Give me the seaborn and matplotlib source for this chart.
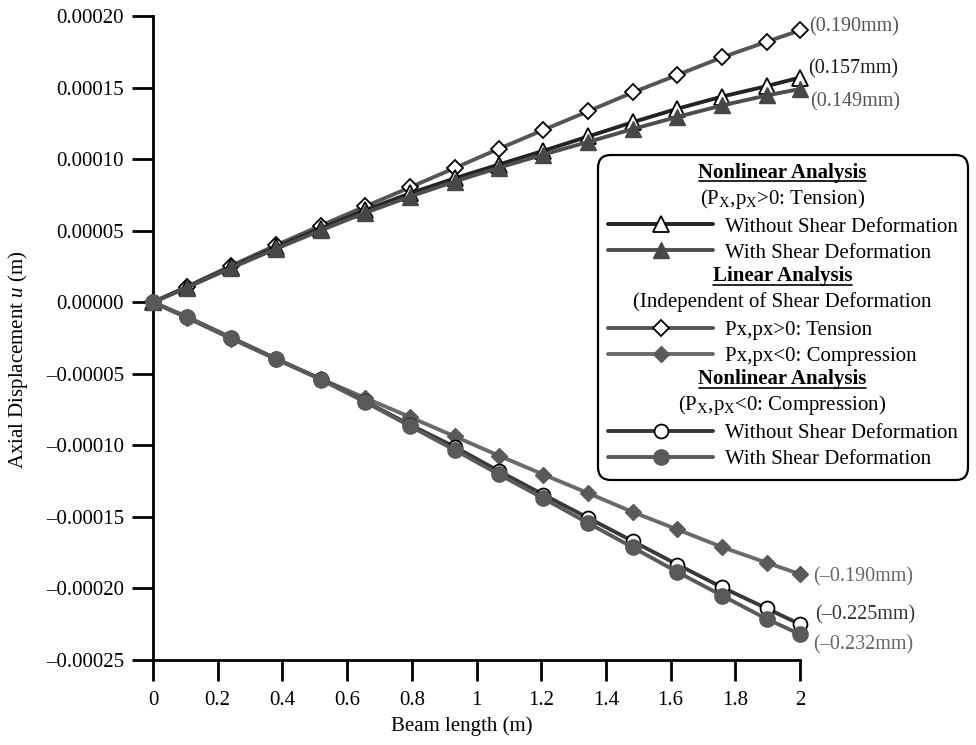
import numpy as np
import matplotlib
matplotlib.use("Agg")
import matplotlib.pyplot as plt
import seaborn as sns
from matplotlib.legend_handler import HandlerBase
from matplotlib.text import Text
from matplotlib.lines import Line2D
from matplotlib.textpath import TextPath
from matplotlib.font_manager import FontProperties

# ---------------- data (displacements in mm, beam length in m) ----------------
beam_x = [0, 0.104, 0.242, 0.380, 0.518, 0.656, 0.794, 0.932, 1.069,
          1.207, 1.345, 1.483, 1.621, 1.759, 1.897, 2.0]

lin_tension_mm = [0, 0.0108, 0.0255, 0.0398, 0.0535, 0.0669, 0.0802, 0.0937,
                  0.1072, 0.1204, 0.1334, 0.1466, 0.1588, 0.1711, 0.1820, 0.1900]
lin_compression_mm = [0, -0.0108, -0.0255, -0.0398, -0.0535, -0.0669, -0.0802, -0.0937,
                      -0.1072, -0.1204, -0.1334, -0.1466, -0.1588, -0.1711, -0.1820, -0.1900]
nl_tension_noshear_mm = [0, 0.0104, 0.0245, 0.0383, 0.0515, 0.0643, 0.0760, 0.0865,
                         0.0962, 0.1058, 0.1158, 0.1258, 0.1352, 0.1437, 0.1510, 0.1570]
nl_tension_shear_mm = [0, 0.0102, 0.0240, 0.0373, 0.0502, 0.0625, 0.0738, 0.0843,
                       0.0940, 0.1032, 0.1120, 0.1210, 0.1295, 0.1375, 0.1445, 0.1490]
nl_compression_noshear_mm = [0, -0.0102, -0.0248, -0.0394, -0.0537, -0.0693, -0.0856, -0.1010,
                             -0.1180, -0.1345, -0.1507, -0.1670, -0.1833, -0.1992, -0.2140, -0.2250]
nl_compression_shear_mm = [0, -0.0102, -0.0248, -0.0395, -0.0540, -0.0697, -0.0865, -0.1032,
                           -0.1202, -0.1371, -0.1543, -0.1713, -0.1885, -0.2050, -0.2213, -0.2320]

x_ticks = [0, 0.2, 0.4, 0.6, 0.8, 1, 1.2, 1.4, 1.6, 1.8, 2]
x_tick_labels = ["0", "0.2", "0.4", "0.6", "0.8", "1", "1.2", "1.4", "1.6", "1.8", "2"]
y_ticks = [-0.00025, -0.00020, -0.00015, -0.00010, -0.00005, 0.0, 0.00005, 0.00010, 0.00015, 0.00020]
y_tick_labels = ["\u20130.00025", "\u20130.00020", "\u20130.00015", "\u20130.00010", "\u20130.00005",
                 "0.00000", "0.00005", "0.00010", "0.00015", "0.00020"]

# ---------------- style ----------------
sns.set_theme(style="ticks")
SERIF = "Liberation Serif"
plt.rcParams["font.family"] = [SERIF, "DejaVu Serif"]
plt.rcParams["mathtext.fontset"] = "custom"
plt.rcParams["mathtext.rm"] = SERIF
plt.rcParams["mathtext.it"] = SERIF + ":italic"
plt.rcParams["mathtext.bf"] = SERIF + ":bold"
plt.rcParams["text.color"] = "black"
plt.rcParams["axes.labelcolor"] = "black"
plt.rcParams["xtick.color"] = "black"
plt.rcParams["ytick.color"] = "black"

FS = 15

fig = plt.figure(figsize=(9.76, 7.45), dpi=100)
ax = fig.add_axes([153 / 976, 1 - 660 / 745, 647 / 976, 644 / 745])

x = np.array(beam_x)
to_m = 1.0 / 1000.0

series = [
    dict(y=lin_tension_mm, marker="D", ms=8.5, color="#555555", mfc="white", mec="black", mew=1.3, lw=2.8, z=4),
    dict(y=nl_tension_noshear_mm, marker="^", ms=11.5, color="#232323", mfc="white", mec="black", mew=1.3, lw=2.8, z=5),
    dict(y=nl_tension_shear_mm, marker="^", ms=11.5, color="#4e4e4e", mfc="#474747", mec="#474747", mew=1.0, lw=2.8, z=6),
    dict(y=lin_compression_mm, marker="D", ms=8, color="#6a6a6a", mfc="#5a5a5a", mec="#5a5a5a", mew=1.0, lw=2.8, z=4),
    dict(y=nl_compression_noshear_mm, marker="o", ms=10, color="#383838", mfc="white", mec="black", mew=1.3, lw=2.8, z=5),
    dict(y=nl_compression_shear_mm, marker="o", ms=11, color="#5a5a5a", mfc="#595959", mec="#595959", mew=1.0, lw=2.8, z=6),
]

lines = []
for s in series:
    sns.lineplot(x=x, y=np.array(s["y"]) * to_m, ax=ax, color=s["color"], lw=s["lw"],
                 marker=s["marker"], markersize=s["ms"], mfc=s["mfc"], mec=s["mec"],
                 mew=s["mew"], clip_on=False, zorder=s["z"], legend=False)
    lines.append(ax.lines[-1])

ax.set_xlim(0, 2)
ax.set_ylim(-0.00025, 0.00020)
ax.set_xticks(x_ticks)
ax.set_xticklabels(x_tick_labels)
ax.set_yticks(y_ticks)
ax.set_yticklabels(y_tick_labels)
ax.tick_params(axis="both", direction="out", length=15, width=2, labelsize=FS, color="black")
ax.tick_params(axis="x", pad=7)
ax.tick_params(axis="y", pad=6)
for sp in ["top", "right"]:
    ax.spines[sp].set_visible(False)
for sp in ["left", "bottom"]:
    ax.spines[sp].set_linewidth(2)
    ax.spines[sp].set_color("black")
ax.set_facecolor("white")
fig.patch.set_facecolor("white")

ax.set_xlabel("Beam length (m)", fontsize=FS)
ax.set_ylabel("Axial Displacement $u$ (m)", fontsize=FS)
ax.xaxis.set_label_coords(0.477, -0.088)
ax.yaxis.set_label_coords(-0.19, 0.466)

# ---------------- end-value annotations ----------------
def mm_label(v):
    return "(" + ("%.3f" % v).replace("-", "\u2013") + "mm)"

annots = [
    (lin_tension_mm, "#555555", (6.5, 2.5)),
    (nl_tension_noshear_mm, "#1a1a1a", (6.0, 6.0)),
    (nl_tension_shear_mm, "#555555", (7.5, -9.0)),
    (lin_compression_mm, "#666666", (9.5, -2.3)),
    (nl_compression_noshear_mm, "#333333", (11.0, 6.7)),
    (nl_compression_shear_mm, "#666666", (9.5, -8.0)),
]
for yv, col, off in annots:
    ax.annotate(mm_label(yv[-1]), xy=(x[-1], yv[-1] * to_m), xytext=off,
                textcoords="offset points", ha="left", va="center", color=col,
                fontsize=14.5, annotation_clip=False)

# ---------------- legend with centred header rows ----------------
HL = 5.0
HTP = 0.6
fp_norm = FontProperties(family=SERIF, size=FS)
fp_bold = FontProperties(family=SERIF, size=FS, weight="bold")
longest = TextPath((0, 0), "Without Shear Deformation", size=FS, prop=fp_norm).get_extents().width
content_center = (HL * FS + HTP * FS + longest) / 2.0


class HeaderHandler(HandlerBase):
    def __init__(self, text, bold=False, underline=False):
        super().__init__()
        self.text = text
        self.bold = bold
        self.underline = underline

    def create_artists(self, legend, orig_handle, xdescent, ydescent, width, height, fontsize, trans):
        cx = -xdescent + content_center
        cy = -ydescent + height / 2.0
        t = Text(cx, cy, self.text, ha="center", va="center", fontsize=FS,
                 fontweight="bold" if self.bold else "normal", family=SERIF,
                 color="black", transform=trans)
        arts = [t]
        if self.underline:
            w = TextPath((0, 0), self.text, size=FS, prop=fp_bold).get_extents().width
            uy = cy - FS * 0.42
            arts.append(Line2D([cx - w / 2, cx + w / 2], [uy, uy], color="black", lw=1.2, transform=trans))
        return arts


headers = [
    ("Nonlinear Analysis", True, True),
    ("(P$_\\mathrm{X}$,p$_\\mathrm{X}$>0: Tension)", False, False),
    ("Linear Analysis", True, True),
    ("(Independent of Shear Deformation", False, False),
    ("Nonlinear Analysis", True, True),
    ("(P$_\\mathrm{X}$,p$_\\mathrm{X}$<0: Compression)", False, False),
]
hdr_objs = [object() for _ in headers]
hmap = {o: HeaderHandler(*h) for o, h in zip(hdr_objs, headers)}

handles = [hdr_objs[0], hdr_objs[1], lines[1], lines[2],
           hdr_objs[2], hdr_objs[3], lines[0], lines[3],
           hdr_objs[4], hdr_objs[5], lines[4], lines[5]]
labels = [" ", " ", "Without Shear Deformation", "With Shear Deformation",
          " ", " ", "Px,px>0: Tension", "Px,px<0: Compression",
          " ", " ", "Without Shear Deformation", "With Shear Deformation"]

leg = fig.legend(handles, labels, handler_map=hmap, loc="upper left",
                 bbox_to_anchor=(598 / 976, 1 - 155 / 745), bbox_transform=fig.transFigure,
                 borderaxespad=0, fontsize=FS, handlelength=HL, handletextpad=HTP,
                 labelspacing=0.3, numpoints=1, frameon=True, fancybox=True,
                 framealpha=1, borderpad=0.5)
leg.get_frame().set_edgecolor("black")
leg.get_frame().set_linewidth(1.6)
leg.get_frame().set_boxstyle("round", pad=0, rounding_size=0.6)
for t in leg.get_texts():
    t.set_color("black")

fig.savefig("out.png", dpi=100, facecolor="white")
